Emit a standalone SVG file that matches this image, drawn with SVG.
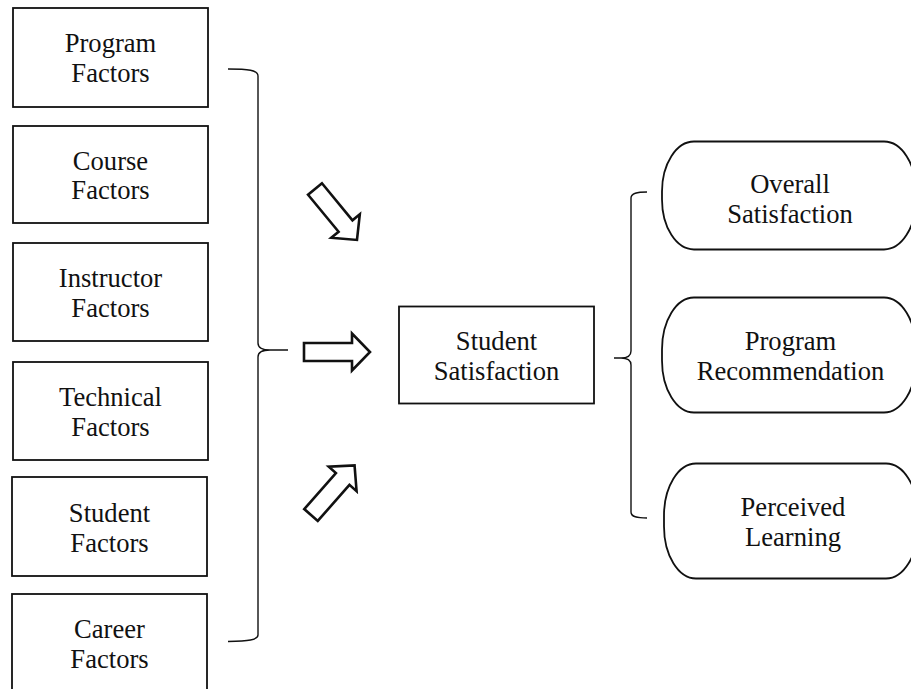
<svg xmlns="http://www.w3.org/2000/svg" xmlns:xlink="http://www.w3.org/1999/xlink" width="911" height="689" viewBox="0 0 911 689">
  <style>
    .box { fill: #fff; stroke: #111; stroke-width: 1.8; }
    .pill { fill: #fff; stroke: #111; stroke-width: 1.8; }
    .lbl { font-family: "Liberation Serif", "Times New Roman", serif; font-size: 26.6px; fill: #111; text-anchor: middle; }
    .brace { fill: none; stroke: #111; stroke-width: 1.4; }
    .barrow { fill: #fff; stroke: #111; stroke-width: 2.6; stroke-linejoin: miter; }
  </style>
  <defs>
    <!-- hollow block arrow, tail centre at origin, pointing along +x -->
    <path id="blockArrow" d="M0,-9 L48,-9 L48,-18.5 L66,0 L48,18.5 L48,9 L0,9 Z"/>
  </defs>

  <rect width="911" height="689" fill="#fff"/>

  <!-- factor boxes -->
  <g id="program-factors">
    <rect class="box" x="13" y="8" width="195" height="99"/>
    <text class="lbl" x="110.5" y="52">Program</text>
    <text class="lbl" x="110.5" y="82">Factors</text>
  </g>
  <g id="course-factors">
    <rect class="box" x="13" y="126" width="195" height="97"/>
    <text class="lbl" x="110.5" y="170">Course</text>
    <text class="lbl" x="110.5" y="199">Factors</text>
  </g>
  <g id="instructor-factors">
    <rect class="box" x="13" y="243" width="195" height="98"/>
    <text class="lbl" x="110.5" y="287">Instructor</text>
    <text class="lbl" x="110.5" y="317">Factors</text>
  </g>
  <g id="technical-factors">
    <rect class="box" x="13" y="362" width="195" height="98"/>
    <text class="lbl" x="110.5" y="406">Technical</text>
    <text class="lbl" x="110.5" y="436">Factors</text>
  </g>
  <g id="student-factors">
    <rect class="box" x="12" y="477" width="195" height="99"/>
    <text class="lbl" x="109.5" y="522">Student</text>
    <text class="lbl" x="109.5" y="552">Factors</text>
  </g>
  <g id="career-factors">
    <rect class="box" x="12" y="594" width="195" height="99"/>
    <text class="lbl" x="109.5" y="638">Career</text>
    <text class="lbl" x="109.5" y="668">Factors</text>
  </g>

  <!-- central construct -->
  <g id="student-satisfaction">
    <rect class="box" x="399" y="306.5" width="195" height="97"/>
    <text class="lbl" x="496.5" y="350">Student</text>
    <text class="lbl" x="496.5" y="380">Satisfaction</text>
  </g>

  <!-- outcome terminals -->
  <g id="overall-satisfaction">
    <rect class="pill" x="662" y="141.5" width="254" height="108" rx="32" ry="50"/>
    <text class="lbl" x="790" y="193">Overall</text>
    <text class="lbl" x="790" y="223">Satisfaction</text>
  </g>
  <g id="program-recommendation">
    <rect class="pill" x="662" y="297.5" width="254" height="115" rx="32" ry="52"/>
    <text class="lbl" x="790.5" y="350">Program</text>
    <text class="lbl" x="790.5" y="380">Recommendation</text>
  </g>
  <g id="perceived-learning">
    <rect class="pill" x="664" y="463.5" width="254" height="115" rx="32" ry="52"/>
    <text class="lbl" x="793" y="516">Perceived</text>
    <text class="lbl" x="793" y="546">Learning</text>
  </g>

  <!-- connectors: braces and block arrows -->
  <g id="connectors">
    <path class="brace" d="M228,69 C248,69 258,70 258,76 L258,343 C258,348 262,350 270,350 L288,350 M270,350 C262,350 258,352 258,357 L258,635 C258,640 248,641 228,641.5"/>
    <path class="brace" d="M647,192 C637,192 631,193 631,198 L631,351 C631,356 627,358 621,358 L614,358 M621,358 C627,358 631,360 631,365 L631,512 C631,517 637,518 647,518"/>
    <use xlink:href="#blockArrow" class="barrow" transform="translate(315,189) rotate(50.5)"/>
    <use xlink:href="#blockArrow" class="barrow" transform="translate(304,352)"/>
    <use xlink:href="#blockArrow" class="barrow" transform="translate(311,515) rotate(-48.7)"/>
  </g>
</svg>
